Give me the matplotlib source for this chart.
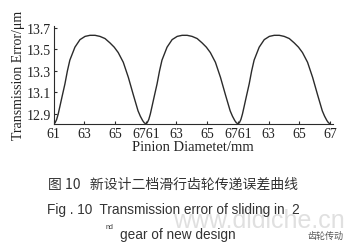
import numpy as np
import matplotlib.pyplot as plt

# one period of the transmission error curve
diameter = [61.0, 61.1, 61.2, 61.3, 61.41, 61.55, 61.74, 61.9, 62.06, 62.39,
            62.72, 63.05, 63.37, 63.7, 64.02, 64.35, 64.67, 64.95, 65.21, 65.54,
            65.87, 66.19, 66.5, 66.65, 66.8, 66.9, 67.0]
error = [12.81, 12.82, 12.85, 12.90, 12.97, 13.06, 13.18, 13.30, 13.40, 13.52,
         13.59, 13.62, 13.63, 13.63, 13.62, 13.60, 13.56, 13.52, 13.47, 13.38,
         13.24, 13.08, 12.93, 12.88, 12.84, 12.82, 12.81]
n_periods = 3

x_ticks_per_period = [61, 63, 65]
y_ticks = [12.9, 13.1, 13.3, 13.5, 13.7]

caption_cn = "图 10   新设计二档滑行齿轮传递误差曲线"
caption_en1 = "Fig . 10  Transmission error of sliding in  2"
caption_en2 = "gear of new design"

plt.rcParams['font.family'] = ['Liberation Serif', 'DejaVu Serif']

fig = plt.figure(figsize=(3.62, 2.51), dpi=100)
ax = fig.add_axes([0.148, 0.502, 0.772, 0.392])

line_color = '#2b2b2b'
d = np.array(diameter)
for k in range(n_periods):
    ax.plot(d - 61 + 6 * k, error, color=line_color, lw=1.0,
            solid_joinstyle='round')

# tick positions / labels for the three repeated diameter ranges
xt, xl = [], []
for k in range(n_periods):
    for t in x_ticks_per_period:
        xt.append(t - 61 + 6 * k)
        xl.append(str(t) if not (t == 61 and k > 0) else "6761")
xt.append(6 * n_periods)
xl.append("67")

ax.set_xticks(xt)
ax.set_xticklabels(xl, fontsize=10)
ax.set_yticks(y_ticks)
ax.set_yticklabels([f"{v:.1f}" for v in y_ticks], fontsize=10)
ax.set_xlim(0, 18.2)
ax.set_ylim(12.808, 13.72)

for s in ['top', 'right']:
    ax.spines[s].set_visible(False)
for s in ['left', 'bottom']:
    ax.spines[s].set_color(line_color)
    ax.spines[s].set_linewidth(0.8)
ax.tick_params(direction='in', length=2.5, width=0.8, colors=line_color, pad=2)
ax.tick_params(labelcolor='#222222')

ax.set_xlabel("Pinion Diametet/mm", fontsize=10.5, labelpad=0, color='#222222')
ax.set_ylabel("Transmission Error/μm", fontsize=10, labelpad=1, color='#222222')

# captions below the chart (the faint site watermark sits behind them)
fig.text(0.478, 0.12, "www.didiche.cn", fontsize=18, color='#e0e0e0',
         family=['Liberation Sans', 'DejaVu Sans'], ha='left', va='center',
         zorder=0)
fig.text(0.478, 0.262, caption_cn, fontsize=10, color='#333333', ha='center',
         va='center', family=['Noto Sans CJK SC', 'DejaVu Sans'])
fig.text(0.478, 0.163, caption_en1, fontsize=9.8, color='#333333', ha='center',
         va='center', family=['Liberation Sans', 'DejaVu Sans'])
fig.text(0.292, 0.095, "nd", fontsize=5, color='#333333', ha='left',
         va='center', family=['Liberation Sans', 'DejaVu Sans'])
fig.text(0.49, 0.064, caption_en2, fontsize=9.8, color='#333333', ha='center',
         va='center', family=['Liberation Sans', 'DejaVu Sans'])
fig.text(0.9, 0.058, "齿轮传动", fontsize=6.5, color='#555555', ha='center',
         va='center', family=['Noto Sans CJK SC', 'DejaVu Sans'])

fig.savefig("out.png", dpi=100, facecolor='white')
